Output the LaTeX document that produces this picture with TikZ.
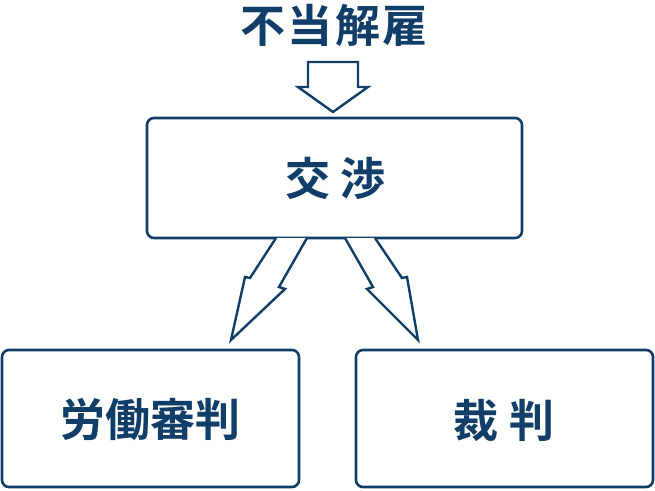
\documentclass[tikz,border=0pt]{standalone}
\usepackage{fontspec}
\newfontfamily\jpfont{Noto Sans CJK JP}[BoldFont={* Bold}]
\definecolor{navy}{RGB}{16,62,105}
\begin{document}
\begin{tikzpicture}[x=1pt,y=-1pt,
  box/.style={draw=navy,line width=2.6pt,rounded corners=7pt,fill=white},
  arr/.style={draw=navy,line width=2.4pt,line join=miter,fill=white},
  lbl/.style={text=navy,font=\jpfont\bfseries\fontsize{45}{45}\selectfont,inner sep=0pt}]
\useasboundingbox (0,0) rectangle (655,490);
% boxes
\draw[box] (147,118) rectangle (522,238);
\draw[box] (2,350) rectangle (299,487);
\draw[box] (356,350) rectangle (653,487);
\node[lbl] (title) at (334,25) {不\kern2.5pt 当\kern2.5pt 解\kern2.5pt 雇};
\node[lbl] (kosho) at (335.5,178) {交\kern11pt 渉};
\node[lbl] (rodo) at (150,420) {労働審判};
\node[lbl] (saiban) at (504,420) {裁\kern11pt 判};
% top arrow
\draw[arr] (308,62) -- (358,62) -- (358,87) -- (368,87) -- (333,112) -- (298,87) -- (308,87) -- cycle;
% left arrow
\draw[arr] (276,238) -- (250,278) -- (245,277) -- (231,340) -- (285,289) -- (279,287) -- (307,238);
% right arrow
\draw[arr] (345,238) -- (373,287) -- (367,289) -- (418,340) -- (407,277) -- (402,278) -- (375,238);
\end{tikzpicture}
\end{document}
